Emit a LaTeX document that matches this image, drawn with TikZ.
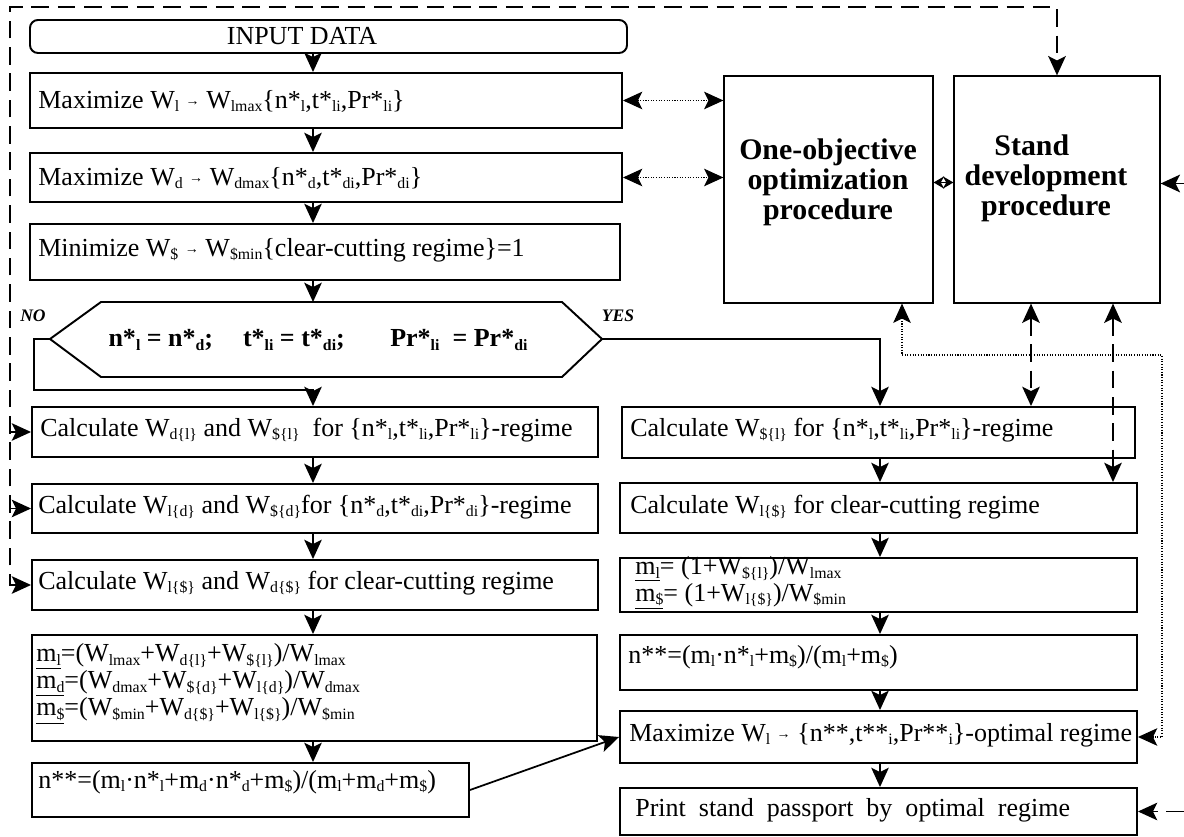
\documentclass[tikz,border=0pt]{standalone}
\usepackage{fontspec}
\setmainfont{Liberation Serif}
\usetikzlibrary{arrows.meta,fit}
\newdimen\pxu \pxu=0.02cm
\newcommand\sbs[1]{\raisebox{-0.3ex}{\fontsize{9}{9}\selectfont #1}}
\newcommand\arr{\raisebox{0.2ex}{\fontsize{8}{8}\selectfont →}}
\begin{document}
\begin{tikzpicture}[x=0.02cm, y=-0.02cm,
  >={Stealth[length=11pt,width=10pt,inset=2.5pt]},
  box/.style={draw, line width=1.1pt, inner sep=0pt},
  pbox/.style={draw, line width=0.7pt, inner sep=0pt},
  txt/.style={inner sep=0pt, anchor=west, align=left, font=\fontsize{14.8}{16}\selectfont},
  ttl/.style={inner sep=0pt, align=center, font=\fontsize{17}{17}\selectfont\bfseries},
  lbl/.style={inner sep=0pt, font=\fontsize{10}{10}\selectfont\bfseries\itshape},
  flow/.style={line width=1pt, ->},
  dsh/.style={line width=1.1pt, dash pattern=on 10pt off 5pt},
  dot/.style={line width=0.6pt, dash pattern=on 0.6pt off 0.9pt}]
\useasboundingbox (0,0) rectangle (1184,837);
% helper coordinates
\coordinate (ax) at (313,0);
\coordinate (rx) at (880,0);
\coordinate (lx) at (10,0);
\coordinate (ex) at (1184,0);
\coordinate (dxa) at (1031,0);
\coordinate (dxb) at (1113,0);
\coordinate (pxa) at (902,0);
\coordinate (tl) at (10,7);
\coordinate (dc) at (1162,355);
\coordinate (noC) at (34,390);
% left column boxes
\node[box, rounded corners=4.5pt, fit={(30,20) (627,53)}] (inp) {};
\node[box, fit={(30,73) (622,128)}] (maxL) {};
\node[box, fit={(30,153) (622,202)}] (maxD) {};
\node[box, fit={(30,224) (620,280)}] (minS) {};
\coordinate (hL) at (50,339);
\coordinate (hTL) at (101,302);
\coordinate (hTR) at (562,302);
\coordinate (hR) at (602,339);
\coordinate (hBR) at (562,377);
\coordinate (hBL) at (101,377);
\coordinate (hTop) at (313,302);
\draw[line width=1.1pt] (hL) -- (hTL) -- (hTR) -- (hR) -- (hBR) -- (hBL) -- cycle;
\node[box, fit={(32,407) (598,457)}] (calcA) {};
\node[box, fit={(32,484) (598,533)}] (calcB) {};
\node[box, fit={(32,560) (598,610)}] (calcC) {};
\node[box, fit={(32,635) (597,741)}] (mL) {};
\node[box, fit={(32,763) (469,817)}] (nL) {};
% right column boxes
\node[box, fit={(622,407) (1135,458)}] (calcR1) {};
\node[box, fit={(620,483) (1137,533)}] (calcR2) {};
\node[box, fit={(620,558) (1137,612)}] (mR) {};
\node[box, fit={(620,635) (1137,690)}] (nR) {};
\node[box, fit={(620,711) (1137,763)}] (maxR) {};
\node[box, fit={(620,788) (1137,835)}] (prt) {};
% procedure boxes
\node[pbox, fit={(724,76) (933,303)}] (one) {};
\node[pbox, fit={(954,76) (1160,303)}] (stand) {};
% texts
\node[txt, anchor=center] (inpT) at (302,36) {INPUT DATA};
\node[txt] (maxLT) at (38,101) {Maximize W\sbs{l} \arr\ W\sbs{lmax}\{n*\sbs{l},t*\sbs{li},Pr*\sbs{li}\}};
\node[txt] (maxDT) at (38,178) {Maximize W\sbs{d} \arr\ W\sbs{dmax}\{n*\sbs{d},t*\sbs{di},Pr*\sbs{di}\}};
\node[txt] (minST) at (38,250) {Minimize W\sbs{\$} \arr\ W\sbs{\$min}\{clear-cutting regime\}=1};
\node[txt, anchor=center, font=\fontsize{14.8}{16}\selectfont\bfseries] (hexT) at (318,340) {n*\sbs{l} = n*\sbs{d};\hspace{0.9em} t*\sbs{li} = t*\sbs{di};\hspace{1.5em} Pr*\sbs{li}\ \ = Pr*\sbs{di}};
\node[lbl] (noT) at (33,316) {NO};
\node[lbl] (yesT) at (618,316) {YES};
\node[txt] (calcAT) at (40,430) {Calculate W\sbs{d\{l\}} and W\sbs{\$\{l\}}\ \ for \{n*\sbs{l},t*\sbs{li},Pr*\sbs{li}\}-regime};
\node[txt] (calcBT) at (38,507) {Calculate W\sbs{l\{d\}} and W\sbs{\$\{d\}}for \{n*\sbs{d},t*\sbs{di},Pr*\sbs{di}\}-regime};
\node[txt] (calcCT) at (38,583) {Calculate W\sbs{l\{\$\}} and W\sbs{d\{\$\}} for clear-cutting regime};
\node[txt, font=\fontsize{14.8}{13.7}\selectfont] (mLT) at (36,684) {\underline{m\sbs{l}}=(W\sbs{lmax}+W\sbs{d\{l\}}+W\sbs{\$\{l\}})/W\sbs{lmax}\\
\underline{m\sbs{d}}=(W\sbs{dmax}+W\sbs{\$\{d\}}+W\sbs{l\{d\}})/W\sbs{dmax}\\
\underline{m\sbs{\$}}=(W\sbs{\$min}+W\sbs{d\{\$\}}+W\sbs{l\{\$\}})/W\sbs{\$min}};
\node[txt] (nLT) at (38,782) {n**=(m\sbs{l}·n*\sbs{l}+m\sbs{d}·n*\sbs{d}+m\sbs{\$})/(m\sbs{l}+m\sbs{d}+m\sbs{\$})};
\node[txt] (calcR1T) at (630,430) {Calculate W\sbs{\$\{l\}} for \{n*\sbs{l},t*\sbs{li},Pr*\sbs{li}\}-regime};
\node[txt] (calcR2T) at (630,507) {Calculate W\sbs{l\{\$\}} for clear-cutting regime};
\node[txt, font=\fontsize{14.8}{14.2}\selectfont] (mRT) at (635,583) {\underline{m\sbs{l}}= (1+W\sbs{\$\{l\}})/W\sbs{lmax}\\
\underline{m\sbs{\$}}= (1+W\sbs{l\{\$\}})/W\sbs{\$min}};
\node[txt] (nRT) at (628,657) {n**=(m\sbs{l}·n*\sbs{l}+m\sbs{\$})/(m\sbs{l}+m\sbs{\$})};
\node[txt] (maxRT) at (629,735) {Maximize W\sbs{l} \arr\ \{n**,t**\sbs{i},Pr**\sbs{i}\}-optimal regime};
\node[txt] (prtT) at (635,810) {\spaceskip=0.5em Print stand passport by optimal regime};
\node[ttl] (oneT) at (828,182) {One-objective\\optimization\\procedure};
\node[ttl] (standT) at (1046,178) {Stand\hspace*{0.95em}\\development\\procedure};
% flow arrows left
\draw[flow] (inp.south -| ax) -- (maxL.north -| ax);
\draw[flow] (maxL.south -| ax) -- (maxD.north -| ax);
\draw[flow] (maxD.south -| ax) -- (minS.north -| ax);
\draw[flow] (minS.south -| ax) -- (hTop);
\draw[flow] (hL) -| (noC) -| (calcA.north -| ax);
\draw[flow] (calcA.south -| ax) -- (calcB.north -| ax);
\draw[flow] (calcB.south -| ax) -- (calcC.north -| ax);
\draw[flow] (calcC.south -| ax) -- (mL.north -| ax);
\draw[flow] (mL.south -| ax) -- (nL.north -| ax);
\draw[flow] (nL.east) -- (maxR.west);
% flow arrows right
\draw[flow] (hR) -| (calcR1.north -| rx);
\draw[flow] (calcR1.south -| rx) -- (calcR2.north -| rx);
\draw[flow] (calcR2.south -| rx) -- (mR.north -| rx);
\draw[flow] (mR.south -| rx) -- (nR.north -| rx);
\draw[flow] (nR.south -| rx) -- (maxR.north -| rx);
\draw[flow] (maxR.south -| rx) -- (prt.north -| rx);
% dotted links
\draw[dot, <->] (maxL.east) -- (maxL.east -| one.west);
\draw[dot, <->] (maxD.east) -- (maxD.east -| one.west);
\draw[dot, <->] (one.south -| pxa) |- (dc) |- (maxR.east);
\draw[line width=0.8pt, {Stealth[length=6pt,width=7pt]}-{Stealth[length=6pt,width=7pt]}] ([yshift=7\pxu]one.east) -- ([yshift=7\pxu]stand.west);
% dashed links
\draw[dsh, <->] (calcC.west) -| (tl) -| (stand.north);
\draw[dsh, ->] (calcA.west -| lx) -- (calcA.west);
\draw[dsh, ->] (calcB.west -| lx) -- (calcB.west);
\draw[dsh, <->] (stand.south -| dxa) -- (calcR1.north -| dxa);
\draw[dsh, <->] (stand.south -| dxb) -- (calcR2.north -| dxb);
\draw[dsh, ->] ([yshift=6\pxu]stand.east -| ex) -- ([yshift=6\pxu]stand.east);
\draw[dsh, ->] (prt.east -| ex) -- (prt.east);
\end{tikzpicture}
\end{document}
